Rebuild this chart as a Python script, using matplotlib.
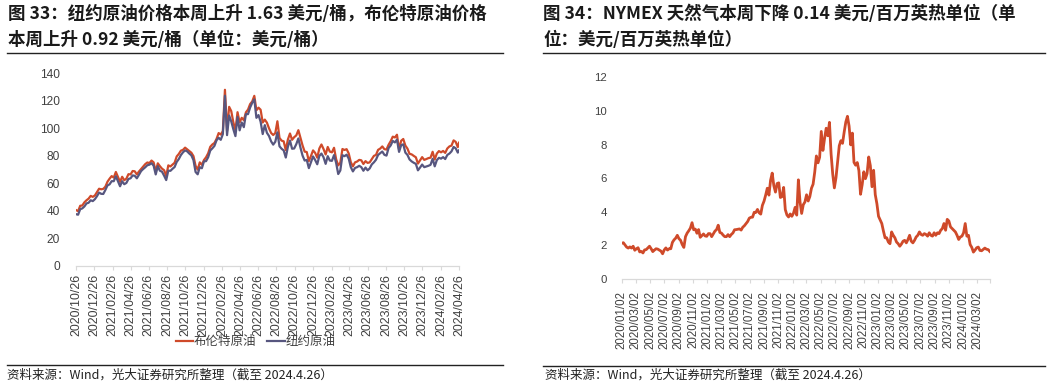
import matplotlib
matplotlib.use("Agg")
import matplotlib.pyplot as plt
from matplotlib.lines import Line2D
import pandas as pd

CJK = ['Noto Sans CJK SC', 'DejaVu Sans']
plt.rcParams['font.family'] = CJK

# ---------------- data: oil (weekly) ----------------
oil_start = '2020-10-26'
oil_end = '2024-04-26'
brent = [
    40.5, 39.7, 43.6, 43.8, 46.1, 47.6, 48.8, 50.8, 50.1, 51.1,
    # 2021
    53.6, 56.0, 55.6, 55.9, 57.5, 61.1, 63.3, 65.2, 64.1, 68.2, 64.5, 61.0, 64.7,
    62.2, 63.3, 66.6, 66.4, 68.9, 68.7, 66.4, 68.5, 70.3, 72.2, 73.9, 75.1, 74.7,
    76.5, 75.2, 68.6, 74.5, 72.4, 70.6, 69.5, 65.2, 73.0, 72.2, 73.5, 74.9, 79.5,
    81.3, 83.7, 84.3, 85.9, 84.7, 83.4, 82.2, 79.7, 72.7, 69.9, 75.2, 73.4, 76.9,
    # 2022
    78.9, 81.8, 86.5, 88.2, 89.3, 92.3, 96.5, 95.4, 97.9, 128.0, 98.0, 115.6, 112.5,
    104.4, 98.5, 111.7, 104.3, 107.6, 105.9, 111.6, 113.6, 117.6, 119.5, 123.6, 113.1, 115.0,
    113.5, 104.2, 106.3, 104.1, 100.0, 96.6, 95.1, 96.5, 105.1, 93.0, 91.0, 90.5, 84.1,
    91.8, 96.2, 91.6, 93.5, 94.8, 98.6, 93.1, 87.5, 83.0, 82.7, 76.1, 79.8, 83.9,
    # 2023
    82.1, 78.6, 85.3, 88.2, 84.9, 80.9, 86.4, 83.0, 82.5, 85.8, 77.5, 73.0, 75.0,
    84.9, 84.2, 84.8, 81.7, 75.3, 72.3, 75.2, 75.8, 77.0, 76.7, 74.0, 76.1, 74.8,
    75.2, 77.6, 79.9, 80.6, 84.3, 85.2, 86.8, 84.8, 84.5, 88.0, 90.6, 93.9, 93.3,
    95.3, 84.6, 90.9, 92.2, 87.4, 85.2, 81.4, 81.0, 79.9, 78.9, 74.3, 76.6, 79.0,
    # 2024
    77.0, 77.6, 78.3, 78.6, 82.9, 77.3, 81.6, 83.4, 82.5, 83.5, 82.1, 85.3, 86.8,
    87.4, 91.2, 90.1, 86.3, 89.5,
]
wti = [
    37.5, 37.1, 41.1, 41.7, 43.1, 45.3, 45.8, 47.6, 47.0, 48.4,
    # 2021
    50.6, 53.2, 52.3, 52.2, 55.1, 58.4, 59.2, 61.5, 61.5, 65.1, 61.4, 57.8, 61.5,
    59.3, 60.2, 63.1, 63.6, 65.7, 65.4, 63.6, 66.1, 68.8, 70.3, 71.6, 73.1, 73.5,
    74.6, 72.8, 66.4, 72.4, 69.1, 68.4, 65.5, 62.3, 69.2, 69.0, 70.5, 71.8, 75.5,
    77.6, 80.5, 82.5, 83.9, 83.2, 81.6, 80.3, 76.8, 68.2, 66.5, 71.7, 70.9, 75.9,
    # 2022
    76.1, 78.9, 83.8, 85.4, 87.2, 91.3, 93.1, 91.6, 95.7, 123.7, 95.0, 109.3, 105.0,
    99.3, 94.3, 108.2, 98.5, 104.2, 100.8, 110.3, 110.3, 115.1, 118.5, 121.0, 107.6, 109.6,
    104.8, 95.8, 102.3, 96.7, 94.4, 90.5, 88.1, 90.2, 97.0, 86.9, 85.1, 83.9, 78.7,
    86.5, 91.1, 85.1, 85.3, 88.4, 92.6, 85.9, 80.1, 76.5, 77.0, 71.0, 75.2, 79.5,
    # 2023
    76.9, 73.8, 79.9, 81.6, 78.9, 74.1, 79.7, 76.5, 76.3, 80.5, 74.8, 66.7, 69.3,
    80.4, 79.7, 80.8, 77.9, 71.7, 68.6, 71.1, 71.7, 72.7, 71.7, 69.1, 71.4, 69.4,
    70.8, 73.7, 75.2, 77.1, 80.6, 81.9, 83.1, 80.7, 80.1, 85.6, 87.5, 90.8, 89.7,
    91.7, 82.8, 87.7, 88.3, 82.3, 80.6, 77.3, 75.9, 74.9, 74.1, 69.4, 71.4, 73.6,
    # 2024
    71.7, 72.2, 72.7, 73.4, 77.8, 72.3, 76.8, 78.5, 77.9, 79.0, 77.6, 80.6, 81.6,
    83.2, 86.4, 85.4, 82.3, 83.9,
]
oil_ticks = ['2020/10/26', '2020/12/26', '2021/02/26', '2021/04/26', '2021/06/26',
             '2021/08/26', '2021/10/26', '2021/12/26', '2022/02/26', '2022/04/26',
             '2022/06/26', '2022/08/26', '2022/10/26', '2022/12/26', '2023/02/26',
             '2023/04/26', '2023/06/26', '2023/08/26', '2023/10/26', '2023/12/26',
             '2024/02/26', '2024/04/26']
oil_yticks = [0, 20, 40, 60, 80, 100, 120, 140]
oil_names = ['布伦特原油', '纽约原油']

# ---------------- data: natural gas (weekly) ----------------
ng_start = '2020-01-02'
ng_end = '2024-04-26'
ng = [
    # 2020
    2.12, 2.16, 2.03, 1.90, 1.84, 1.91, 1.84, 1.95, 1.71, 1.80, 1.86, 1.61, 1.64,
    1.55, 1.73, 1.75, 1.85, 1.95, 1.80, 1.63, 1.72, 1.80, 1.78, 1.72, 1.66, 1.50,
    1.73, 1.85, 1.72, 1.80, 1.80, 2.18, 2.33, 2.43, 2.60, 2.40, 2.30, 2.05, 1.88,
    2.52, 2.73, 2.87, 3.03, 3.35, 2.93, 2.97, 2.72, 2.94, 2.48, 2.58, 2.68, 2.56, 2.54,
    # 2021
    2.70, 2.70, 2.52, 2.69, 2.85, 2.94, 3.20, 2.77, 2.73, 2.61, 2.52, 2.52,
    2.64, 2.52, 2.65, 2.74, 2.93, 2.94, 2.96, 2.98, 2.91, 3.08, 3.17, 3.29, 3.42,
    3.62, 3.67, 3.68, 3.97, 3.96, 4.14, 3.94, 3.86, 4.38, 4.63, 4.99, 5.40, 4.99, 5.87,
    6.30, 5.55, 5.17, 5.68, 5.72, 4.85, 4.90, 5.45, 4.13, 3.81, 3.69, 3.87, 3.73,
    # 2022
    3.91, 4.26, 3.80, 5.90, 4.60, 3.90, 4.42, 4.58, 5.01, 4.64, 4.90, 5.40, 5.64,
    6.36, 7.32, 6.91, 7.24, 8.78, 7.65, 8.35, 8.97, 8.52, 9.32, 7.44, 6.24, 5.42,
    6.03, 6.97, 7.93, 8.23, 8.07, 8.74, 9.34, 9.68, 9.10, 7.98, 8.68, 6.94, 6.77,
    6.93, 6.45, 5.04, 5.61, 6.38, 5.97, 6.27, 7.26, 6.74, 5.49, 6.47, 5.02, 4.48,
    # 2023
    3.73, 3.52, 3.30, 2.85, 2.45, 2.45, 2.20, 2.10, 2.80, 2.60, 2.45, 2.20, 2.10,
    1.95, 2.08, 2.25, 2.30, 2.15, 2.35, 2.60, 2.25, 2.15, 2.30, 2.50, 2.60, 2.80,
    2.65, 2.60, 2.70, 2.65, 2.55, 2.75, 2.60, 2.55, 2.75, 2.60, 2.75, 2.70, 2.90,
    3.00, 3.30, 2.90, 3.55, 3.45, 3.10, 3.00, 2.90, 2.80, 2.60, 2.35, 2.50, 2.55,
    # 2024
    2.75, 3.30, 2.55, 2.60, 2.05, 1.88, 1.60, 1.72, 1.86, 1.90, 1.70, 1.68, 1.76,
    1.84, 1.77, 1.75, 1.64,
]
ng_ticks = ['2020/01/02', '2020/03/02', '2020/05/02', '2020/07/02', '2020/09/02',
            '2020/11/02', '2021/01/02', '2021/03/02', '2021/05/02', '2021/07/02',
            '2021/09/02', '2021/11/02', '2022/01/02', '2022/03/02', '2022/05/02',
            '2022/07/02', '2022/09/02', '2022/11/02', '2023/01/02', '2023/03/02',
            '2023/05/02', '2023/07/02', '2023/09/02', '2023/11/02', '2024/01/02',
            '2024/03/02']
ng_yticks = [0, 2, 4, 6, 8, 10, 12]

title_left = ['图 33：纽约原油价格本周上升 1.63 美元/桶，布伦特原油价格',
              '本周上升 0.92 美元/桶（单位：美元/桶）']
title_right = ['图 34：NYMEX 天然气本周下降 0.14 美元/百万英热单位（单',
               '位：美元/百万英热单位）']
source = '资料来源：Wind，光大证券研究所整理（截至 2024.4.26）'

RED = '#CF4A2A'
BLUE = '#57567F'
AXC = '#D9D9D9'
TXT = '#404040'

W, H = 1055, 386
fig = plt.figure(figsize=(W / 100, H / 100), dpi=100)


def fx(px):
    return px / W


def fy(py):
    return 1 - py / H


def style(ax):
    for s in ['top', 'right', 'left']:
        ax.spines[s].set_visible(False)
    ax.spines['bottom'].set_color(AXC)
    ax.spines['bottom'].set_linewidth(0.9)
    ax.tick_params(axis='y', length=0, colors=TXT)
    ax.tick_params(axis='x', length=3, color=AXC, width=0.8, colors=TXT)
    ax.patch.set_alpha(0)


# ---------------- left chart ----------------
axL = fig.add_axes([fx(76), fy(265.7), fx(459 - 76), (265.7 - 73.3) / H])
oil_dates = list(pd.date_range(oil_start, periods=len(brent) - 1, freq='7D')) + [pd.Timestamp(oil_end)]
axL.plot(oil_dates, brent, color=RED, lw=1.6, label=oil_names[0], solid_joinstyle='round')
axL.plot(oil_dates, wti, color=BLUE, lw=1.6, label=oil_names[1], solid_joinstyle='round')
axL.set_xlim(pd.Timestamp(oil_start), pd.Timestamp(oil_end))
axL.set_ylim(0, 140)
axL.set_yticks(oil_yticks)
axL.set_yticklabels([str(v) for v in oil_yticks], fontsize=8.6, family=['Liberation Sans'])
axL.set_xticks(pd.to_datetime(oil_ticks, format='%Y/%m/%d'))
axL.set_xticklabels(oil_ticks, rotation=90, fontsize=8.9, family=['Liberation Sans'], va='top')
style(axL)
axL.tick_params(axis='y', pad=11.5)
axL.tick_params(axis='x', pad=3)
leg = axL.legend(loc='center', bbox_to_anchor=(fx(255.5), fy(341.7)), bbox_transform=fig.transFigure,
                 ncol=2, frameon=False, handlelength=1.4, handletextpad=0.05, columnspacing=0.9,
                 prop={'family': CJK, 'size': 9})
for t in leg.get_texts():
    t.set_color(TXT)

# ---------------- right chart ----------------
axR = fig.add_axes([fx(621.7), fy(279), fx(990 - 621.7), (279 - 77.3) / H])
ng_dates = pd.date_range(ng_start, periods=len(ng), freq='7D')
axR.plot(ng_dates, ng, color=RED, lw=2.0, solid_joinstyle='round')
axR.set_xlim(pd.Timestamp(ng_start), pd.Timestamp(ng_end))
axR.set_ylim(0, 12)
axR.set_yticks(ng_yticks)
axR.set_yticklabels([str(v) for v in ng_yticks], fontsize=8.2, family=['Liberation Sans'])
tick_pos = list(pd.to_datetime(ng_ticks, format='%Y/%m/%d')) + [pd.Timestamp(ng_end)]
axR.set_xticks(tick_pos)
axR.set_xticklabels(ng_ticks + [''], rotation=90, fontsize=8.3, family=['Liberation Sans'], va='top')
style(axR)
axR.tick_params(axis='y', pad=10.5)
axR.tick_params(axis='x', pad=5.5)

# ---------------- titles, rules, sources ----------------
for i, line in enumerate(title_left):
    fig.text(fx(8), fy([13.5, 39.5][i]), line, fontsize=12.6, fontweight='bold',
             color='#1a1a1a', va='center', ha='left', family=CJK)
for i, line in enumerate(title_right):
    fig.text(fx(543), fy([13.5, 39.5][i]), line, fontsize=12.6, fontweight='bold',
             color='#1a1a1a', va='center', ha='left', family=CJK)

fig.add_artist(Line2D([fx(7), fx(503)], [fy(52.7), fy(52.7)], color='#222222', lw=1.0))
fig.add_artist(Line2D([fx(543), fx(1045)], [fy(52.7), fy(52.7)], color='#222222', lw=1.0))
fig.add_artist(Line2D([fx(7), fx(503)], [fy(364.5), fy(364.5)], color='#222222', lw=1.0))
fig.add_artist(Line2D([fx(543), fx(1045)], [fy(365.5), fy(365.5)], color='#222222', lw=1.0))

fig.text(fx(7), fy(375.5), source, fontsize=9, color='#222222', va='center', ha='left', family=CJK)
fig.text(fx(545), fy(375.5), source, fontsize=9, color='#222222', va='center', ha='left', family=CJK)

fig.savefig('out.png', dpi=100)
